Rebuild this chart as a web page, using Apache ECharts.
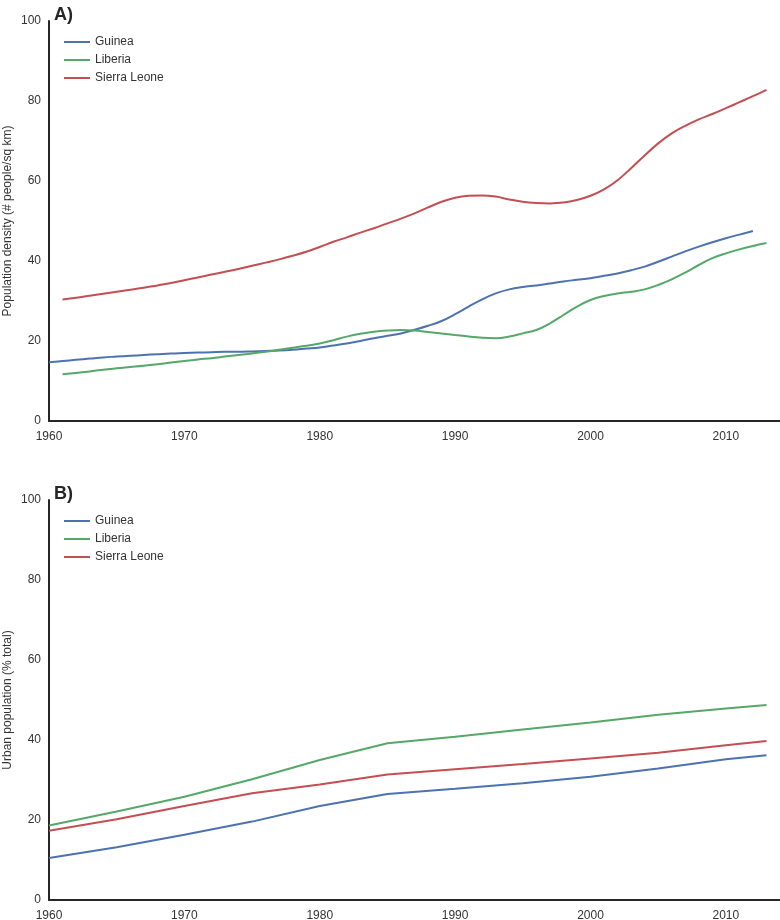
<!DOCTYPE html>
<html>
<head>
<meta charset="utf-8">
<script src="https://cdn.jsdelivr.net/npm/echarts@6/dist/echarts.min.js"></script>
<style>
html,body{margin:0;padding:0;background:#fff;}
#chart{width:780px;height:920px;}
</style>
</head>
<body>
<div id="chart"></div>
<script>
// Panel A: population density (# people/sq km)
var yearsGuineaA = [];
for (var y = 1960; y <= 2012; y++) yearsGuineaA.push(y);
var yearsOtherA = [];
for (var y2 = 1961; y2 <= 2013; y2++) yearsOtherA.push(y2);

var guineaDensity = [14.7,15.0,15.3,15.6,15.9,16.1,16.3,16.5,16.7,16.9,17.0,17.1,17.2,17.3,17.3,17.4,17.5,17.6,17.8,18.1,18.4,18.9,19.4,20.0,20.7,21.3,21.9,22.8,23.8,25.0,26.7,28.6,30.4,31.9,32.9,33.5,33.9,34.4,34.9,35.3,35.7,36.3,36.9,37.7,38.6,39.8,41.1,42.4,43.6,44.7,45.7,46.6,47.5];
var liberiaDensity = [11.7,12.0,12.4,12.8,13.2,13.5,13.8,14.2,14.6,15.0,15.4,15.7,16.1,16.5,16.9,17.3,17.8,18.3,18.8,19.4,20.2,21.1,21.8,22.3,22.6,22.75,22.6,22.25,21.9,21.5,21.1,20.8,20.7,21.1,21.9,22.75,24.4,26.5,28.6,30.25,31.25,31.9,32.3,32.9,34.0,35.4,37.1,39.0,40.7,41.9,42.9,43.75,44.5];
var sierraDensity = [30.4,30.8,31.3,31.8,32.3,32.8,33.3,33.9,34.5,35.2,35.9,36.6,37.3,38.0,38.8,39.6,40.4,41.3,42.3,43.5,44.8,45.9,47.1,48.2,49.4,50.6,51.9,53.4,54.8,55.8,56.3,56.4,56.1,55.4,54.8,54.5,54.4,54.6,55.25,56.3,57.9,60.2,63.2,66.4,69.4,71.9,73.8,75.4,76.75,78.2,79.7,81.2,82.8,84.6];

// Panel B: urban population (% of total)
var yearsB = [1960,1965,1970,1975,1980,1985,1990,1995,2000,2005,2010,2013];
var guineaUrban = [10.5,13.2,16.3,19.6,23.5,26.5,27.8,29.2,30.8,32.9,35.2,36.2];
var liberiaUrban = [18.6,22.1,25.8,30.2,35.0,39.2,40.8,42.6,44.4,46.3,47.9,48.75];
var sierraUrban = [17.3,20.2,23.5,26.7,28.9,31.4,32.7,34.0,35.4,36.8,38.7,39.75];

var xTickLabels = [1960,1970,1980,1990,2000,2010];
var yTickLabels = [0,20,40,60,80,100];
var seriesNames = ['Guinea','Liberia','Sierra Leone'];
var colors = ['#4c72b0','#55a868','#c44e52'];

function pairs(xs, ys){ return xs.map(function(x,i){ return [x, ys[i]]; }); }

var font = '"Liberation Sans", Arial, sans-serif';
var labelColor = '#333333';

function xAxis(gi){
  return {
    type:'value', gridIndex:gi, min:1960, max:2014, interval:10,
    axisLine:{show:true, onZero:false, lineStyle:{color:'#262626', width:2}},
    axisTick:{show:false}, splitLine:{show:false},
    axisLabel:{color:labelColor, fontFamily:font, fontSize:12, margin:10,
      formatter:function(v){ return xTickLabels.indexOf(v) >= 0 ? String(v) : ''; }}
  };
}
function yAxis(gi, name){
  return {
    type:'value', gridIndex:gi, min:0, max:100, interval:20,
    name:name, nameLocation:'middle', nameGap:35, nameMoveOverlap:false,
    nameTextStyle:{color:labelColor, fontFamily:font, fontSize:12},
    axisLine:{show:true, lineStyle:{color:'#262626', width:2}},
    axisTick:{show:false}, splitLine:{show:false},
    axisLabel:{color:labelColor, fontFamily:font, fontSize:12, margin:8,
      formatter:function(v){ return yTickLabels.indexOf(v) >= 0 ? String(v) : ''; }}
  };
}
function line(name, data, xi, smooth){
  var c = colors[seriesNames.indexOf(name)];
  return {
    name:name, type:'line', xAxisIndex:xi, yAxisIndex:xi, data:data,
    smooth:smooth, showSymbol:false, symbol:'none',
    lineStyle:{color:c, width:2}, itemStyle:{color:c}, animation:false
  };
}

var chart = echarts.init(document.getElementById('chart'), null, {renderer:'canvas'});
chart.setOption({
  backgroundColor:'#ffffff',
  animation:false,
  title:[
    {text:'A)', left:49, top:1, textStyle:{fontFamily:font, fontSize:18, fontWeight:'bold', color:'#262626'}},
    {text:'B)', left:49, top:480, textStyle:{fontFamily:font, fontSize:18, fontWeight:'bold', color:'#262626'}}
  ],
  legend:[
    {data:seriesNames, orient:'vertical', left:59, top:31, itemWidth:26, itemHeight:2, itemGap:6, icon:'rect',
     textStyle:{fontFamily:font, fontSize:12, color:labelColor}},
    {data:seriesNames.map(function(n){return n;}), orient:'vertical', left:59, top:510, itemWidth:26, itemHeight:2, itemGap:6, icon:'rect',
     textStyle:{fontFamily:font, fontSize:12, color:labelColor}}
  ],
  grid:[
    {left:49, top:21, width:731, height:400, containLabel:false, outerBoundsMode:'none'},
    {left:49, top:500, width:731, height:400, containLabel:false, outerBoundsMode:'none'}
  ],
  xAxis:[xAxis(0), xAxis(1)],
  yAxis:[yAxis(0,'Population density (# people/sq km)'), yAxis(1,'Urban population (% total)')],
  series:[
    line('Guinea', pairs(yearsGuineaA, guineaDensity), 0, 0.4),
    line('Liberia', pairs(yearsOtherA, liberiaDensity), 0, 0.4),
    line('Sierra Leone', pairs(yearsOtherA, sierraDensity), 0, 0.4),
    line('Guinea', pairs(yearsB, guineaUrban), 1, false),
    line('Liberia', pairs(yearsB, liberiaUrban), 1, false),
    line('Sierra Leone', pairs(yearsB, sierraUrban), 1, false)
  ]
});
</script>
</body>
</html>
